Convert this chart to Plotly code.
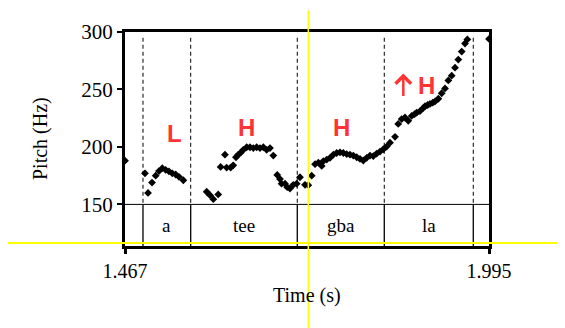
import plotly.graph_objects as go

# ---- data ----
times = [1.4670,
         1.4960, 1.5004, 1.5062, 1.5115, 1.5163, 1.5211, 1.5260, 1.5308, 1.5356, 1.5405, 1.5453, 1.5516,
         1.5855, 1.5903, 1.5951, 1.6022, 1.6057, 1.6120, 1.6144, 1.6202, 1.6240, 1.6280, 1.6313, 1.6348,
         1.6386, 1.6435, 1.6483, 1.6531, 1.6580, 1.6628, 1.6677, 1.6725, 1.6773, 1.6821, 1.6878, 1.6918,
         1.6941, 1.6991, 1.7023, 1.7063, 1.7111, 1.7160, 1.7208, 1.7281, 1.7329, 1.7378,
         1.7427, 1.7475, 1.7524, 1.7547, 1.7596, 1.7644, 1.7692, 1.7741, 1.7789, 1.7837, 1.7886, 1.7934,
         1.7982, 1.8031, 1.8079, 1.8127, 1.8176, 1.8224, 1.8272, 1.8321, 1.8369, 1.8417, 1.8466, 1.8514,
         1.8587,
         1.8633, 1.8683, 1.8731, 1.8779, 1.8828, 1.8870, 1.8901, 1.8949, 1.8990, 1.9022, 1.9060, 1.9094,
         1.9135, 1.9167, 1.9215, 1.9264, 1.9312, 1.9360, 1.9409, 1.9457, 1.9505, 1.9554, 1.9602, 1.9636,
         1.9950]
pitch = [188,
         177, 160, 169, 175, 179, 181.5, 180, 178.7, 177, 176, 174, 171,
         161, 158, 154.5, 158.7, 182.6, 193.3, 182, 182, 184, 191, 193.3, 195,
         197.5, 199.7, 199.7, 199, 199.7, 199, 199.7, 197.5, 199, 192.5, 175.6, 172,
         168, 168, 165, 163.8, 167, 168, 173.6, 167, 166.7, 175,
         185, 186.3, 183.5, 187.7, 189, 190.5, 193.3, 194.7, 195.3, 194.7, 193.8, 193.3,
         192.5, 191, 189.6, 188.2, 190.5, 192.5, 192, 194.2, 196, 198, 200.3, 203.7,
         208.8,
         220, 224.2, 225.6, 222.7, 227, 228.5, 229.8, 231.2, 233.5, 235.4, 236.5, 237.4,
         238.5, 239.6, 241.9, 246.7, 250.9, 257.9, 262, 269, 276, 283, 290, 293.5,
         294]

t_start, t_end = 1.467, 1.995
boundaries = [1.4931, 1.5623, 1.7169, 1.8431, 1.9722]
syllables = ["a", "tee", "gba", "la"]
pitch_ticks = [150, 200, 250, 300]
time_ticks = [1.467, 1.995]
time_tick_labels = ["1.467", "1.995"]
y_bottom = 113.8  # bottom of the text tier (in pitch units)

tones = ["L", "H", "H", "H"]
tone_t = [1.5395, 1.6435, 1.7813, 1.9037]
tone_hz = [211.5, 217.2, 217.2, 253.2]
upstep_t, upstep_hz = 1.8707, 263.8   # tip of the upstep arrow before the last H

serif = "Liberation Serif"
red = "#ff3333"

fig = go.Figure()
fig.add_trace(go.Scatter(
    x=times, y=pitch, mode="markers",
    marker=dict(symbol="diamond", size=6, color="black"),
    cliponaxis=True, showlegend=False, hoverinfo="skip"))

shapes = []
shapes.append(dict(type="line", xref="x", yref="y", x0=t_start, x1=t_end, y0=150, y1=150,
                   line=dict(color="black", width=1)))
for b in boundaries:
    shapes.append(dict(type="line", xref="x", yref="y", x0=b, x1=b, y0=295, y1=150,
                       line=dict(color="black", width=1, dash="4px,3px")))
    shapes.append(dict(type="line", xref="x", yref="y", x0=b, x1=b, y0=150, y1=y_bottom,
                       line=dict(color="black", width=1.3)))
# yellow guide lines
shapes.append(dict(type="line", xref="paper", yref="paper", x0=0.5036, x1=0.5036, y0=1.1, y1=-0.4,
                   line=dict(color="#ffff00", width=1.5), layer="above"))
shapes.append(dict(type="line", xref="paper", yref="paper", x0=-0.33, x1=1.25, y0=0.0136, y1=0.0136,
                   line=dict(color="#ffff00", width=2), layer="above"))

annotations = []
for i, s in enumerate(syllables):
    annotations.append(dict(x=(boundaries[i] + boundaries[i + 1]) / 2, y=(150 + y_bottom) / 2,
                            xref="x", yref="y", text=s, showarrow=False,
                            font=dict(family=serif, size=19, color="black")))
for txt, tx, ty in zip(tones, tone_t, tone_hz):
    annotations.append(dict(x=tx, y=ty, xref="x", yref="y", text="<b>%s</b>" % txt, showarrow=False,
                            font=dict(family="Liberation Sans", size=24, color=red)))
annotations.append(dict(x=upstep_t, y=upstep_hz, xref="x", yref="y", text="",
                        showarrow=True, ax=0, ay=24, axref="pixel", ayref="pixel",
                        arrowhead=4, arrowwidth=2.5, arrowsize=1.2, arrowcolor=red))
annotations.append(dict(x=-0.2335, y=0.5, xref="paper", yref="paper", text="Pitch (Hz)",
                        textangle=-90, showarrow=False, xanchor="center", yanchor="middle",
                        font=dict(family=serif, size=20, color="black")))
annotations.append(dict(x=0.5, y=-0.231, xref="paper", yref="paper", text="Time (s)",
                        showarrow=False, xanchor="center", yanchor="middle",
                        font=dict(family=serif, size=20, color="black")))

# the page body has an 8px default margin, so the figure is sized/margined to compensate
fig.update_layout(
    width=557, height=320,
    margin=dict(l=117, r=76, t=17, b=82),
    paper_bgcolor="white", plot_bgcolor="white",
    shapes=shapes, annotations=annotations,
    xaxis=dict(range=[t_start, t_end], tickvals=time_ticks, ticktext=time_tick_labels,
               ticks="outside", ticklen=5, tickwidth=3, tickcolor="black",
               showline=True, linewidth=3, linecolor="black", mirror=True,
               showgrid=False, zeroline=False,
               tickfont=dict(family=serif, size=20, color="black")),
    yaxis=dict(range=[y_bottom, 300], tickvals=pitch_ticks,
               ticks="outside", ticklen=5, tickwidth=2, tickcolor="black",
               showline=True, linewidth=3, linecolor="black", mirror=True,
               showgrid=False, zeroline=False,
               tickfont=dict(family=serif, size=21, color="black")),
)

fig.write_html("out.html")
